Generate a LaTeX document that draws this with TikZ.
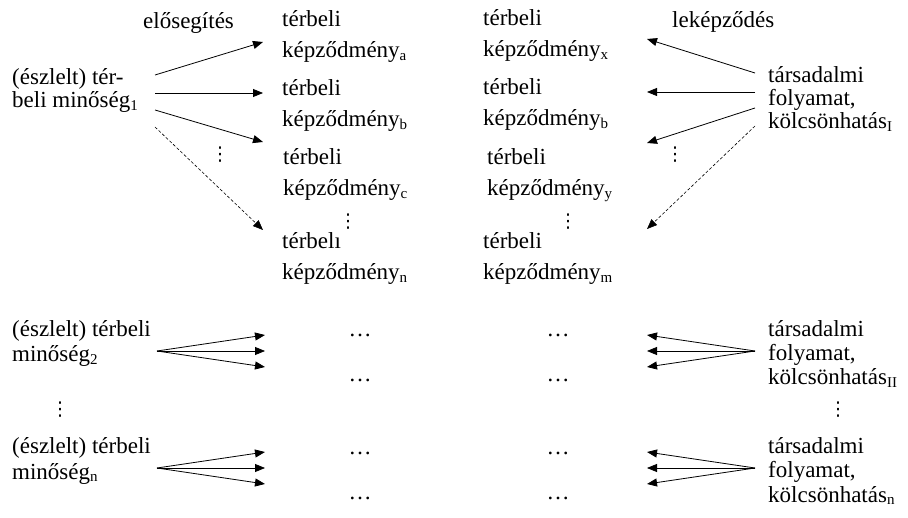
\documentclass[tikz,border=0pt]{standalone}
\usepackage{fontspec}
\setmainfont{Liberation Serif}
\newfontfamily\dejavu{DejaVu Sans}
\usetikzlibrary{arrows.meta}
\newcommand\sbs[1]{\raisebox{-2.5pt}{\fontsize{15}{15}\selectfont #1}}
\begin{document}
\begin{tikzpicture}[x=1pt,y=-1pt,
  lbl/.style={anchor=base west,inner sep=0pt,font=\fontsize{23}{23}\selectfont},
  hd/.style={anchor=base,inner sep=0pt,font=\fontsize{23}{23}\selectfont},
  dv/.style={inner sep=0pt,font=\dejavu\fontsize{19}{19}\selectfont},
  arr/.style={-{Triangle[length=10pt,width=8pt]},line width=0.8pt},
  darr/.style={-{Triangle[length=10pt,width=8pt]},line width=0.6pt,dash pattern=on 3pt off 2pt}]
\useasboundingbox (0,0) rectangle (908,518);
% ---------- top left
\node[lbl] (el) at (143,29) {elősegítés};
\node[lbl] (q1a) at (12,85) {(észlelt) tér-};
\node[lbl] (q1b) at (12,108) {beli minőség\sbs{1}};
% ---------- column 1
\node[lbl] (a1) at (282,27) {térbeli};
\node[lbl] (a2) at (282,58) {képződmény\sbs{a}};
\node[lbl] (b1) at (282,96) {térbeli};
\node[lbl] (b2) at (282,127) {képződmény\sbs{b}};
\node[lbl] (c1) at (283,165) {térbeli};
\node[lbl] (c2) at (283,196) {képződmény\sbs{c}};
\node[dv] (cv1) at (348,222) {⋮};
\node[lbl] (n1) at (282,249) {térbelı};
\node[lbl] (n2) at (282,280) {képződmény\sbs{n}};
% ---------- column 2
\node[lbl] (x1) at (483,26) {térbeli};
\node[lbl] (x2) at (483,57) {képződmény\sbs{x}};
\node[lbl] (y1) at (483,95) {térbeli};
\node[lbl] (y2) at (483,126) {képződmény\sbs{b}};
\node[lbl] (z1) at (487,165) {térbeli};
\node[lbl] (z2) at (487,196) {képződmény\sbs{y}};
\node[dv] (cv2) at (568,222) {⋮};
\node[lbl] (m1) at (483,249) {térbeli};
\node[lbl] (m2) at (483,280) {képződmény\sbs{m}};
% ---------- top right
\node[lbl] (le) at (672,28) {leképződés};
\node[lbl] (s1a) at (768,83) {társadalmi};
\node[lbl] (s1b) at (768,106) {folyamat,};
\node[lbl] (s1c) at (768,129) {kölcsönhatás\sbs{I}};
% ---------- top arrows
\coordinate (l0a) at (155,75);
\coordinate (l0b) at (155,93);
\coordinate (l0c) at (155,110);
\coordinate (l0d) at (155,127);
\coordinate (l1a) at (263,42);
\coordinate (l1b) at (263,93);
\coordinate (l1c) at (263,142);
\coordinate (l1d) at (263,230);
\draw[arr] (l0a) -- (l1a);
\draw[arr] (l0b) -- (l1b);
\draw[arr] (l0c) -- (l1c);
\draw[darr] (l0d) -- (l1d);
\node[dv] (lv1) at (220,155) {⋮};
\coordinate (r0a) at (755,73);
\coordinate (r0b) at (755,92);
\coordinate (r0c) at (755,108);
\coordinate (r0d) at (755,126);
\coordinate (r1a) at (647,39);
\coordinate (r1b) at (647,92);
\coordinate (r1c) at (647,143);
\coordinate (r1d) at (647,229);
\draw[arr] (r0a) -- (r1a);
\draw[arr] (r0b) -- (r1b);
\draw[arr] (r0c) -- (r1c);
\draw[darr] (r0d) -- (r1d);
\node[dv] (rv1) at (675,155) {⋮};
% ---------- lower block 2
\node[lbl] (q2a) at (12,337) {(észlelt) térbeli};
\node[lbl] (q2b) at (12,362) {minőség\sbs{2}};
\node[hd] (e1) at (360,337) {…};
\node[hd] (e2) at (360,382) {…};
\node[hd] (e3) at (558,337) {…};
\node[hd] (e4) at (558,382) {…};
\node[lbl] (s2a) at (768,337) {társadalmi};
\node[lbl] (s2b) at (768,361) {folyamat,};
\node[lbl] (s2c) at (768,385) {kölcsönhatás\sbs{II}};
\coordinate (p2) at (157,351);
\coordinate (p2a) at (265,335);
\coordinate (p2b) at (265,351);
\coordinate (p2c) at (265,367);
\draw[arr] (p2) -- (p2a);
\draw[arr] (p2) -- (p2b);
\draw[arr] (p2) -- (p2c);
\coordinate (t2) at (755,351);
\coordinate (t2a) at (647,335);
\coordinate (t2b) at (647,351);
\coordinate (t2c) at (647,367);
\draw[arr] (t2) -- (t2a);
\draw[arr] (t2) -- (t2b);
\draw[arr] (t2) -- (t2c);
% ---------- vdots between
\node[dv] (lv2) at (60,410) {⋮};
\node[dv] (rv2) at (838,410) {⋮};
% ---------- lower block n
\node[lbl] (q3a) at (12,454) {(észlelt) térbeli};
\node[lbl] (q3b) at (12,479) {minőség\sbs{n}};
\node[hd] (f1) at (360,455) {…};
\node[hd] (f2) at (360,500) {…};
\node[hd] (f3) at (558,455) {…};
\node[hd] (f4) at (558,500) {…};
\node[lbl] (s3a) at (768,454) {társadalmi};
\node[lbl] (s3b) at (768,478) {folyamat,};
\node[lbl] (s3c) at (768,502) {kölcsönhatás\sbs{n}};
\coordinate (p3) at (157,468);
\coordinate (p3a) at (265,452);
\coordinate (p3b) at (265,468);
\coordinate (p3c) at (265,484);
\draw[arr] (p3) -- (p3a);
\draw[arr] (p3) -- (p3b);
\draw[arr] (p3) -- (p3c);
\coordinate (t3) at (755,468);
\coordinate (t3a) at (647,452);
\coordinate (t3b) at (647,468);
\coordinate (t3c) at (647,484);
\draw[arr] (t3) -- (t3a);
\draw[arr] (t3) -- (t3b);
\draw[arr] (t3) -- (t3c);
\end{tikzpicture}
\end{document}
